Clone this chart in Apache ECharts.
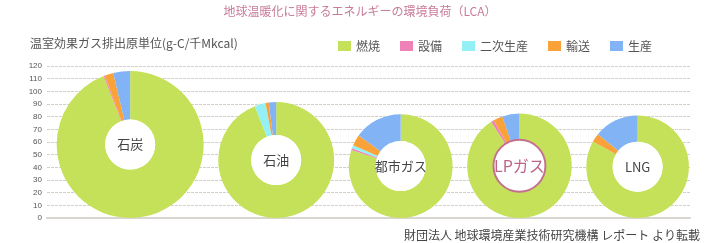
<!DOCTYPE html>
<html>
<head>
<meta charset="utf-8">
<script src="https://cdn.jsdelivr.net/npm/echarts@6/dist/echarts.min.js"></script>
<style>
html,body{margin:0;padding:0;background:#fff;}
#main{width:720px;height:243px;}
</style>
</head>
<body>
<div id="main"></div>
<script>
// ---- data ----
const fuels = ['石炭', '石油', '都市ガス', 'LPガス', 'LNG'];
const components = ['燃焼', '設備', '二次生産', '輸送', '生産'];
const combustion = [109.2, 86.0, 65.6, 75.0, 67.4];
const equipment  = [0.3, 0.0, 0.5, 0.7, 0.0];
const secondary  = [0.0, 2.8, 0.8, 0.0, 0.0];
const transport  = [2.2, 0.8, 2.8, 2.4, 2.2];
const production = [4.3, 1.9, 12.3, 4.4, 11.4];
const yMin = 0, yMax = 120, yStep = 10;

// ---- layout / style ----
const W = 720, H = 243;
const GRID = {left: 47, right: 30, top: 66, bottom: 25};
const colors = ['#c5e15a', '#ee82b8', '#93f1f6', '#f9a23a', '#82b3f5'];
const FONT = '"Noto Sans CJK JP", "Noto Sans", sans-serif';
const HOLE = 25;

const compValues = [combustion, equipment, secondary, transport, production];
const totals = fuels.map((f, i) => compValues.reduce((s, arr) => s + arr[i], 0));

// x axis uses the same pixel-per-unit as y, so circles sit side by side
const pxPerUnit = (H - GRID.top - GRID.bottom) / (yMax - yMin);
const xMax = (W - GRID.left - GRID.right) / pxPerUnit;
const startOffset = 9.7 / pxPerUnit;
const gapUnits = 14.6 / pxPerUnit;
const centers = [];
{
  let cursor = startOffset;
  totals.forEach(t => { centers.push(cursor + t / 2); cursor += t + gapUnits; });
}

const compSeries = components.map((name, k) => {
  const data = fuels.map((f, i) => {
    let before = 0;
    for (let j = 0; j < k; j++) before += compValues[j][i];
    const a0 = before / totals[i] * Math.PI * 2;
    const a1 = (before + compValues[k][i]) / totals[i] * Math.PI * 2;
    return [centers[i], totals[i], a0, a1];
  });
  return {
    name: name,
    type: 'custom',
    itemStyle: {color: colors[k]},
    encode: {x: 0, y: 1},
    data: data,
    renderItem: function (params, api) {
      const xc = api.value(0), total = api.value(1), a0 = api.value(2), a1 = api.value(3);
      if (a1 - a0 <= 0) return null;
      const c = api.coord([xc, total / 2]);
      const r = api.size([0, total])[1] / 2;
      return {
        type: 'sector',
        shape: {cx: c[0], cy: c[1], r: r, r0: HOLE,
                startAngle: -Math.PI / 2 + a0, endAngle: -Math.PI / 2 + a1, clockwise: true},
        style: {fill: colors[k], stroke: null}
      };
    }
  };
});

const holeSeries = {
  name: 'holes',
  type: 'custom',
  encode: {x: 0, y: 1},
  data: fuels.map((f, i) => [centers[i], totals[i], i]),
  z: 5,
  renderItem: function (params, api) {
    const i = api.value(2);
    const c = api.coord([api.value(0), api.value(1) / 2]);
    const isLP = fuels[i] === 'LPガス';
    return {
      type: 'group',
      children: [
        {type: 'circle', shape: {cx: c[0], cy: c[1], r: isLP ? 26 : HOLE},
         style: {fill: '#fff', stroke: isLP ? '#c4718f' : null, lineWidth: isLP ? 2 : 0}},
        {type: 'text', style: {x: c[0], y: c[1], text: fuels[i], align: 'center', verticalAlign: 'middle',
          fill: isLP ? '#bb6688' : '#444', font: (isLP ? '16px ' : '13px ') + FONT}}
      ]
    };
  }
};

const chart = echarts.init(document.getElementById('main'), null, {renderer: 'canvas'});
chart.setOption({
  animation: false,
  textStyle: {fontFamily: FONT},
  title: {
    text: '地球温暖化に関するエネルギーの環境負荷（LCA）',
    left: 'center', top: 0,
    textStyle: {fontSize: 12, fontWeight: 'normal', color: '#c87c99', fontFamily: FONT}
  },
  legend: {
    data: components,
    left: 333, top: 35,
    icon: 'rect', itemWidth: 13, itemHeight: 10, itemGap: 20,
    textStyle: {fontSize: 12, color: '#555', fontFamily: FONT}
  },
  graphic: [
    {type: 'text', left: 30, top: 37,
     style: {text: '温室効果ガス排出原単位(g-C/千Mkcal)', fill: '#555', font: '12px ' + FONT}},
    {type: 'text', right: 20, top: 229,
     style: {text: '財団法人 地球環境産業技術研究機構 レポート より転載', fill: '#444', font: '12px ' + FONT}}
  ],
  grid: GRID,
  xAxis: {
    type: 'value', min: 0, max: xMax,
    axisLine: {show: true, lineStyle: {color: '#d8d6cf', width: 2}},
    axisTick: {show: false}, axisLabel: {show: false}, splitLine: {show: false}
  },
  yAxis: {
    type: 'value', min: yMin, max: yMax, interval: yStep,
    axisLine: {show: false}, axisTick: {show: false},
    axisLabel: {fontSize: 8, color: '#555', margin: 5, fontFamily: '"Liberation Sans", Arial, sans-serif'},
    splitLine: {show: true, lineStyle: {color: '#d4d0c6', type: [3, 1], width: 1}}
  },
  series: compSeries.concat([holeSeries])
});
</script>
</body>
</html>
